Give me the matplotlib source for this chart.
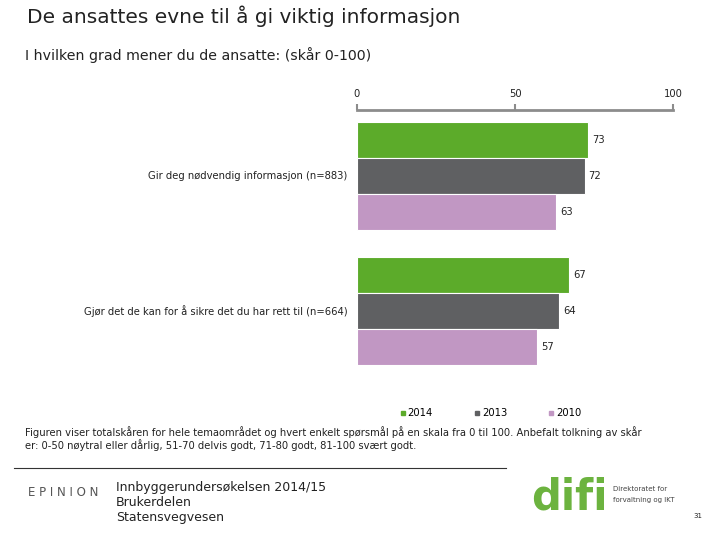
import matplotlib
matplotlib.use('Agg')
import matplotlib.pyplot as plt
from matplotlib.lines import Line2D

# data
categories = ['Gir deg nødvendig informasjon (n=883)',
              'Gjør det de kan for å sikre det du har rett til (n=664)']
years = ['2014', '2013', '2010']
v2014 = [73, 67]
v2013 = [72, 64]
v2010 = [63, 57]
colors = ['#5cab2a', '#5f6062', '#c197c3']

W, H = 720, 540
fig = plt.figure(figsize=(7.2, 5.4), dpi=100)
plt.rcParams['font.family'] = ['DejaVu Sans']

def fx(px):
    return px / W

def fy(py):
    return 1 - py / H

# axes from pixel y=110 (axis line) to y=365
top, bot = 110, 365
ax = fig.add_axes([fx(357), fy(bot), fx(673) - fx(357), (bot - top) / H])
unit = 36.0
ax.set_ylim((bot - top) / unit, 0)
ax.set_xlim(0, 100)

fs = 7.2
series = [v2014, v2013, v2010]
for g, cat in enumerate(categories):
    for j, vals in enumerate(series):
        yc = 12 / unit + 3.75 * g + j + 0.5
        ax.barh(yc, vals[g], height=1.0, color=colors[j], edgecolor='white', linewidth=0.8)
        ax.text(vals[g] + 1.3, yc, str(vals[g]), va='center', ha='left', fontsize=fs, color='#222222')
    ax.text(-3, 12 / unit + 3.75 * g + 1.5, cat, ha='right', va='center', fontsize=fs, color='#222222')

for s in ['right', 'bottom', 'left']:
    ax.spines[s].set_visible(False)
ax.spines['top'].set_color('#8c8c8c')
ax.spines['top'].set_linewidth(2)
ax.xaxis.tick_top()
ax.set_xticks([0, 50, 100])
ax.tick_params(axis='x', colors='#8c8c8c', length=4, width=1.5, labelsize=fs, labelcolor='#222222', pad=4)
ax.set_yticks([])

# legend
handles = [Line2D([], [], marker='s', ls='none', color=c, markersize=3) for c in colors]
fig.legend(handles, years, loc='center', bbox_to_anchor=(fx(490), fy(413)), ncol=3, frameon=False,
           fontsize=fs, handletextpad=0.1, columnspacing=4.0, handlelength=0.8)

# titles
fig.text(fx(27), fy(16), 'De ansattes evne til å gi viktig informasjon', fontsize=14.5, va='center', ha='left', color='#222222')
fig.text(fx(25), fy(55), 'I hvilken grad mener du de ansatte: (skår 0-100)', fontsize=10.2, va='center', ha='left', color='#222222')

# footnote
fig.text(fx(25), fy(432), 'Figuren viser totalskåren for hele temaområdet og hvert enkelt spørsmål på en skala fra 0 til 100. Anbefalt tolkning av skår',
         fontsize=7.2, va='center', ha='left', color='#222222')
fig.text(fx(25), fy(445), 'er: 0-50 nøytral eller dårlig, 51-70 delvis godt, 71-80 godt, 81-100 svært godt.',
         fontsize=7.2, va='center', ha='left', color='#222222')

# footer
fig.add_artist(Line2D([fx(14), fx(506)], [fy(468), fy(468)], color='#333333', lw=0.8))
fig.text(fx(28), fy(493), 'E P I N I O N', fontsize=8.5, va='center', ha='left', color='#555555')
for i, line in enumerate(['Innbyggerundersøkelsen 2014/15', 'Brukerdelen', 'Statensvegvesen']):
    fig.text(fx(116), fy(487 + 15 * i), line, fontsize=9, va='center', ha='left', color='#222222')
fig.text(fx(531), fy(498), 'difi', fontsize=30, fontweight='bold', va='center', ha='left', color='#6cb33f')
fig.text(fx(613), fy(489), 'Direktoratet for', fontsize=5, va='center', ha='left', color='#444444')
fig.text(fx(613), fy(500), 'forvaltning og IKT', fontsize=5, va='center', ha='left', color='#444444')
fig.text(fx(693), fy(516), '31', fontsize=5, va='center', ha='left', color='#222222')

fig.savefig('out.png', dpi=100)
